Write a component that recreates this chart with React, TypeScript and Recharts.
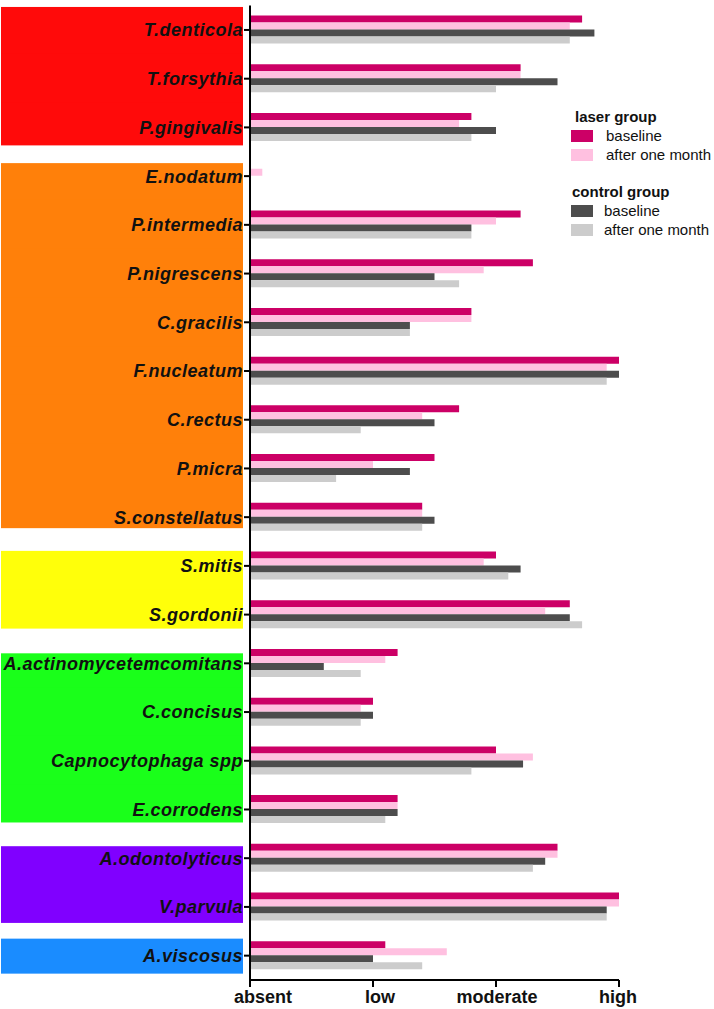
import React from 'react';
import { BarChart, Bar, XAxis, YAxis, Legend } from 'recharts';

const categories = [
  'T.denticola', 'T.forsythia', 'P.gingivalis', 'E.nodatum', 'P.intermedia',
  'P.nigrescens', 'C.gracilis', 'F.nucleatum', 'C.rectus', 'P.micra',
  'S.constellatus', 'S.mitis', 'S.gordonii', 'A.actinomycetemcomitans', 'C.concisus',
  'Capnocytophaga spp', 'E.corrodens', 'A.odontolyticus', 'V.parvula', 'A.viscosus',
];

const laserBaseline = [2.7, 2.2, 1.8, 0, 2.2, 2.3, 1.8, 3.0, 1.7, 1.5, 1.4, 2.0, 2.6, 1.2, 1.0, 2.0, 1.2, 2.5, 3.0, 1.1];
const laserAfter = [2.6, 2.2, 1.7, 0.1, 2.0, 1.9, 1.8, 2.9, 1.4, 1.0, 1.4, 1.9, 2.4, 1.1, 0.9, 2.3, 1.2, 2.5, 3.0, 1.6];
const controlBaseline = [2.8, 2.5, 2.0, 0, 1.8, 1.5, 1.3, 3.0, 1.5, 1.3, 1.5, 2.2, 2.6, 0.6, 1.0, 2.22, 1.2, 2.4, 2.9, 1.0];
const controlAfter = [2.6, 2.0, 1.8, 0, 1.8, 1.7, 1.3, 2.9, 0.9, 0.7, 1.4, 2.1, 2.7, 0.9, 0.9, 1.8, 1.1, 2.3, 2.9, 1.4];

const levelTicks = [0, 1, 2, 3];
const levelLabels = ['absent', 'low', 'moderate', 'high'];

// bacterial complexes (first / last category index)
const complexes = [
  { from: 0, to: 2 },
  { from: 3, to: 10 },
  { from: 11, to: 12 },
  { from: 13, to: 16 },
  { from: 17, to: 18 },
  { from: 19, to: 19 },
];

// styles
const complexColors = ['#FF0A0A', '#FF800A', '#FFFF0A', '#1AFF1A', '#8000FF', '#1A8CFF'];
const complexPads = [[23, 18], [13, 11], [15, 14], [10, 13], [12, 16], [17, 18]];
const levelDx = [13, 7, 1, -1];

const COLORS = {
  laserBaseline: '#CC0066',
  laserAfter: '#FFC0E0',
  controlBaseline: '#4D4D4D',
  controlAfter: '#CCCCCC',
};

const W = 714;
const H = 1009;
const TOP = 5.6;
const XAXIS_H = 29;
const BAND = (H - TOP - XAXIS_H) / categories.length;
const FONT = '"Liberation Sans", Arial, Helvetica, sans-serif';

const data = categories.map((name, i) => ({
  name,
  laserBaseline: laserBaseline[i],
  laserAfter: laserAfter[i],
  controlBaseline: controlBaseline[i],
  controlAfter: controlAfter[i],
}));

const CategoryTick = (props: any) => {
  const { x, y, payload } = props;
  const i = categories.indexOf(payload.value);
  const g = complexes.findIndex((c) => i >= c.from && i <= c.to);
  const c = complexes[g];
  const top = i === c.from ? y - complexPads[g][0] : y - BAND / 2 - 0.5;
  const bottom = i === c.to ? y + complexPads[g][1] : y + BAND / 2 + 0.5;
  return (
    <g>
      <rect x={1} y={top} width={242} height={bottom - top} fill={complexColors[g]} />
      <text
        x={x}
        y={y}
        dy="0.355em"
        textAnchor="end"
        fill="#111"
        fontFamily={FONT}
        fontSize={18}
        fontWeight="bold"
        fontStyle="italic"
        letterSpacing={0.5}
      >
        {payload.value}
      </text>
    </g>
  );
};

const LevelTick = (props: any) => {
  const { x, y, payload, index } = props;
  return (
    <text
      x={x + levelDx[index]}
      y={y}
      dy="0.71em"
      textAnchor="middle"
      fill="#111"
      fontFamily={FONT}
      fontSize={18}
      fontWeight="bold"
    >
      {levelLabels[levelTicks.indexOf(payload.value)]}
    </text>
  );
};

const legendGroups = [
  {
    title: 'laser group',
    items: [
      { label: 'baseline', color: COLORS.laserBaseline },
      { label: 'after one month', color: COLORS.laserAfter },
    ],
  },
  {
    title: 'control group',
    items: [
      { label: 'baseline', color: COLORS.controlBaseline },
      { label: 'after one month', color: COLORS.controlAfter },
    ],
  },
];

const renderLegend = () => (
  <div style={{ fontFamily: FONT, fontSize: 15, color: '#111', lineHeight: '18px' }}>
    {legendGroups.map((grp, gi) => (
      <div key={grp.title} style={{ marginBottom: gi === 0 ? 19 : 0 }}>
        <div style={{ fontWeight: 'bold', height: 18, marginLeft: gi === 0 ? 4 : 1 }}>{grp.title}</div>
        {grp.items.map((it, ii) => (
          <div
            key={it.label}
            style={{ display: 'flex', alignItems: 'center', height: 18.5, marginTop: ii === 0 ? 1 : 0 }}
          >
            <span style={{ display: 'inline-block', width: 22, height: 12, background: it.color, marginRight: gi === 0 ? 13 : 11 }} />
            <span>{it.label}</span>
          </div>
        ))}
      </div>
    ))}
  </div>
);

export default function App() {
  return (
    <div style={{ position: 'absolute', left: 0, top: 0, width: W, height: H, background: '#fff' }}>
      <BarChart
        width={W}
        height={H}
        data={data}
        layout="vertical"
        margin={{ top: TOP, right: 95, bottom: 0, left: 0 }}
        barSize={7}
        barGap={0}
      >
        <XAxis
          type="number"
          domain={[0, 3]}
          ticks={levelTicks}
          height={XAXIS_H}
          tick={<LevelTick />}
          tickSize={7}
          tickMargin={3}
          axisLine={{ stroke: '#000', strokeWidth: 2 }}
          tickLine={{ stroke: '#000', strokeWidth: 2 }}
        />
        <YAxis
          type="category"
          dataKey="name"
          width={250}
          interval={0}
          tick={<CategoryTick />}
          tickSize={6}
          tickMargin={1}
          axisLine={{ stroke: '#000', strokeWidth: 2 }}
          tickLine={{ stroke: '#000', strokeWidth: 2 }}
        />
        <Legend
          layout="vertical"
          align="center"
          verticalAlign="middle"
          content={renderLegend}
          wrapperStyle={{ left: 571, top: 108, width: 143 }}
        />
        <Bar dataKey="laserBaseline" name="laser baseline" fill={COLORS.laserBaseline} isAnimationActive={false} />
        <Bar dataKey="laserAfter" name="laser after one month" fill={COLORS.laserAfter} isAnimationActive={false} />
        <Bar dataKey="controlBaseline" name="control baseline" fill={COLORS.controlBaseline} isAnimationActive={false} />
        <Bar dataKey="controlAfter" name="control after one month" fill={COLORS.controlAfter} isAnimationActive={false} />
      </BarChart>
    </div>
  );
}
